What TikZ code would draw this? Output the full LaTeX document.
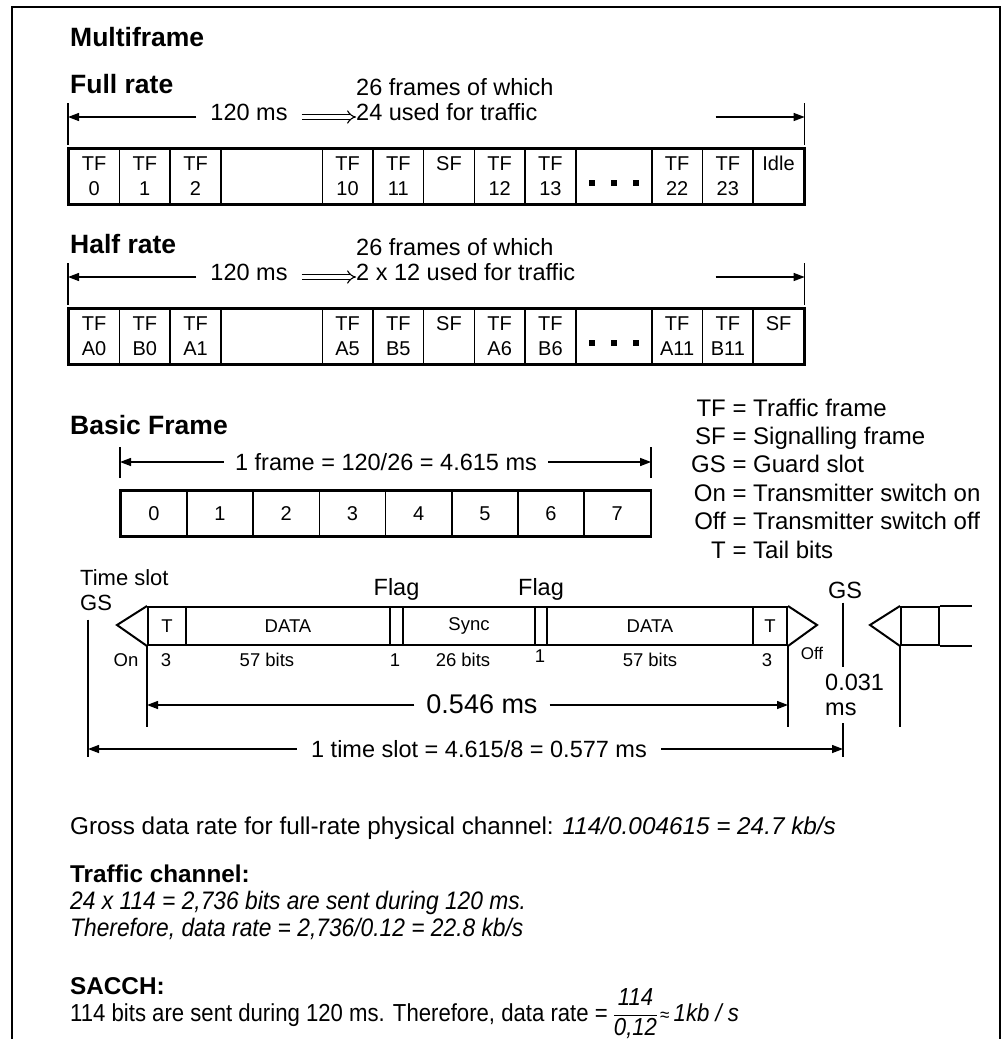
\documentclass[tikz,border=0pt]{standalone}
\usepackage{fontspec}
\setmainfont{Liberation Sans}
\newfontfamily\narrowfont{Liberation Sans}[FakeStretch=0.9]
\usetikzlibrary{arrows.meta, positioning, calc}

\newcommand\headfont{\fontsize{26.5}{30}\selectfont\bfseries}
\newcommand\labfont{\fontsize{23.5}{25}\selectfont}
\newcommand\legfont{\fontsize{24}{28.4}\selectfont}
\newcommand\bigfont{\fontsize{27}{30}\selectfont}
\newcommand\cellfont{\fontsize{20}{25}\selectfont}
\newcommand\bitfont{\fontsize{18.5}{20}\selectfont}
\newcommand\bodyfont{\fontsize{24.3}{27}\selectfont}

\begin{document}
\begin{tikzpicture}[
  x=1pt, y=-1pt,
  >={Triangle[length=11pt,width=8pt]},
  cell/.style={draw, line width=1.5pt, inner sep=0pt, anchor=north west,
               align=center, font=\cellfont, minimum height=55pt},
  bcell/.style={cell, minimum width=66.2pt, minimum height=45pt},
  rowbox/.style={draw, line width=2.6pt},
  slot/.style={draw, line width=2pt, inner sep=0pt, anchor=north west,
               minimum height=38pt, font=\bitfont},
  burst/.style={line width=2pt, line join=miter},
  frame/.style={line width=2.4pt},
  dim/.style={->, line width=1.3pt},
  tick/.style={line width=1.3pt},
  implies/.style={double, double distance=3.5pt, line width=1.1pt, -{Implies}},
  lab/.style={font=\labfont, inner sep=0pt},
  head/.style={font=\headfont, inner sep=0pt, anchor=base west},
  body/.style={font=\bodyfont, inner sep=0pt, anchor=base west},
  bit/.style={font=\bitfont, inner sep=0pt, anchor=base},
]
\useasboundingbox (0,0) rectangle (1003,1039);

% outer frame (open at the bottom)
\draw[frame] (12,1045) -- (12,7) -- (1000,7) -- (1000,1045);

% ============ MULTIFRAME ============
\node[head] (multi) at (70,46) {Multiframe};

% --- full rate ---
\node[head] (fullhd) at (70,93) {Full rate};
\foreach \x/\w/\txt [count=\i] in {0/1/{TF\\0}, 1/1/{TF\\1}, 2/1/{TF\\2},
    3/2/{}, 5/1/{TF\\10}, 6/1/{TF\\11}, 7/1/{SF\\\phantom{0}},
    8/1/{TF\\12}, 9/1/{TF\\13}, 10/1.5/{}, 11.5/1/{TF\\22},
    12.5/1/{TF\\23}, 13.5/1/{Idle\\\phantom{0}}}
  \node[cell, minimum width=\w*50.7pt] (full\i) at (68+\x*50.7,148) {\txt};
\draw[rowbox] (full1.north west) rectangle (full13.south east);
\foreach \d in {-22,0,22}
  \fill ([shift={(\d-3,4)}]full10.center) rectangle ++(6,6);

\coordinate (fullL) at ($(full1.north west)+(0,-31)$);
\coordinate (fullR) at ($(full13.north east)+(0,-31)$);
\coordinate (fullRs) at ($(fullR)+(-89,0)$);
\draw[tick] ($(full1.north west)+(0,-3)$) -- ++(0,-42);
\draw[tick] ($(full13.north east)+(0,-3)$) -- ++(0,-42);
\node[lab, anchor=base, inner xsep=14pt] (fullms) at (249,120) {120 ms};
\node[lab, align=left, anchor=north west] (fullnote) at (356,78)
  {26 frames of which\\24 used for traffic};
\draw[dim] (fullms.west |- fullL) -- (fullL);
\draw[implies] (fullms.east |- fullL) -- (fullnote.west |- fullL);
\draw[dim] (fullRs) -- (fullR);

% --- half rate ---
\node[head] (halfhd) at (70,253) {Half rate};
\foreach \x/\w/\txt [count=\i] in {0/1/{TF\\A0}, 1/1/{TF\\B0}, 2/1/{TF\\A1},
    3/2/{}, 5/1/{TF\\A5}, 6/1/{TF\\B5}, 7/1/{SF\\\phantom{0}},
    8/1/{TF\\A6}, 9/1/{TF\\B6}, 10/1.5/{}, 11.5/1/{TF\\A11},
    12.5/1/{TF\\B11}, 13.5/1/{SF\\\phantom{0}}}
  \node[cell, minimum width=\w*50.7pt] (half\i) at (68+\x*50.7,308) {\txt};
\draw[rowbox] (half1.north west) rectangle (half13.south east);
\foreach \d in {-22,0,22}
  \fill ([shift={(\d-3,4)}]half10.center) rectangle ++(6,6);

\coordinate (halfL) at ($(half1.north west)+(0,-31)$);
\coordinate (halfR) at ($(half13.north east)+(0,-31)$);
\coordinate (halfRs) at ($(halfR)+(-89,0)$);
\draw[tick] ($(half1.north west)+(0,-3)$) -- ++(0,-42);
\draw[tick] ($(half13.north east)+(0,-3)$) -- ++(0,-42);
\node[lab, anchor=base, inner xsep=14pt] (halfms) at (249,280) {120 ms};
\node[lab, align=left, anchor=north west] (halfnote) at (356,238)
  {26 frames of which\\2 x 12 used for traffic};
\draw[dim] (halfms.west |- halfL) -- (halfL);
\draw[implies] (halfms.east |- halfL) -- (halfnote.west |- halfL);
\draw[dim] (halfRs) -- (halfR);

% ============ BASIC FRAME ============
\node[head] (basichd) at (70,434) {Basic Frame};
\foreach \i in {0,...,7}
  \node[bcell] (bf\i) at (120+\i*66.2,490) {\i};
\draw[rowbox] (bf0.north west) rectangle (bf7.south east);
\coordinate (bfL) at ($(bf0.north west)+(0,-28)$);
\coordinate (bfR) at ($(bf7.north east)+(0,-28)$);
\draw[tick] ($(bf0.north west)+(0,-12)$) -- ++(0,-31);
\draw[tick] ($(bf7.north east)+(0,-12)$) -- ++(0,-31);
\node[lab, anchor=base, inner xsep=11pt] (bfms) at (386,470)
  {1 frame = 120/26 = 4.615 ms};
\draw[dim] (bfms.west |- bfL) -- (bfL);
\draw[dim] (bfms.east |- bfR) -- (bfR);

% legend
\node[font=\legfont, inner sep=0pt, anchor=north west] (legend) at (691,396)
  {\begin{tabular}{@{}r@{\ =\ }l@{}}
   TF  & Traffic frame\\
   SF  & Signalling frame\\
   GS  & Guard slot\\
   On  & Transmitter switch on\\
   Off & Transmitter switch off\\
   T   & Tail bits
   \end{tabular}};

% ============ TIME SLOT ============
\node[lab, font=\fontsize{22}{25}\selectfont, align=left, anchor=north west]
  (tslot) at (80,569) {Time slot\\GS};

\foreach \x/\w/\txt [count=\i] in {147/38/T, 185/204/DATA, 389/13/{},
    402/132/Sync, 534/12/{}, 546/206/DATA, 752/34/T}
  \node[slot, minimum width=\w pt] (b\i) at (\x,606) {\txt};
\draw[burst] (b1.north west) -- ++(-30,19) -- (b1.south west);
\draw[burst] (b7.north east) -- ++(29,19) -- (b7.south east);

% next burst
\node[slot, minimum width=38pt] (n1) at (900,606) {};
\coordinate (nR) at (972,606);
\draw[burst] (n1.north west) -- ++(-30,19) -- (n1.south west);
\draw[burst] (n1.north east) -- (nR);
\draw[burst] (n1.south east) -- (nR |- n1.south);

\node[lab, anchor=base] (flag1) at ($(b3.north)+(0,-11)$) {Flag};
\node[lab, anchor=base] (flag2) at ($(b5.north)+(0,-11)$) {Flag};

% bit counts
\node[bit] (on)   at (126,666) {On};
\node[bit] (n3a)  at (166,666) {3};
\node[bit] (n57a) at (267,666) {57 bits};
\node[bit] (n1a)  at (395,666) {1};
\node[bit] (n26)  at (463,666) {26 bits};
\node[bit] (n1b)  at (540,662) {1};
\node[bit] (n57b) at (650,666) {57 bits};
\node[bit] (n3b)  at (767,666) {3};
\node[bit, font=\fontsize{17}{20}\selectfont] (off) at (812,659) {Off};

% 0.546 ms
\draw[tick] (b1.south west) -- ++(0,81);
\draw[tick] (b7.south east) -- ++(0,81);
\draw[tick] (n1.south west) -- ++(0,81);
\coordinate (a546L) at ($(b1.south west)+(0,59)$);
\coordinate (a546R) at ($(b7.south east)+(0,59)$);
\node[font=\bigfont, inner sep=0pt, inner xsep=12pt, anchor=base] (t546)
  at (482,713) {0.546 ms};
\draw[dim] (t546.west |- a546L) -- (a546L);
\draw[dim] (t546.east |- a546R) -- (a546R);

% guard slot
\coordinate (gsL) at (88,749);
\coordinate (gsRx) at (843,749);
\node[lab] (gsR) at (845,590) {GS};
\node[lab, align=left, anchor=north west, inner ysep=7pt] (t031) at (825,667)
  {0.031\\ms};
\draw[tick] (gsR.south -| gsRx) ++(0,4) -- (t031.north -| gsRx);
\draw[tick] (t031.south -| gsRx) -- ($(gsRx)+(0,8)$);
\draw[tick] (gsL |- tslot.south) ++(0,9) -- ($(gsL)+(0,8)$);

% 1 time slot
\node[lab, anchor=base, inner xsep=14pt] (tslotms) at (479,757)
  {1 time slot = 4.615/8 = 0.577 ms};
\draw[dim] (tslotms.west |- gsL) -- (gsL);
\draw[dim] (tslotms.east |- gsRx) -- (gsRx);

% ============ DATA RATES ============
\node[body] (gross) at (70,834)
  {Gross data rate for full-rate physical channel: \textit{114/0.004615 = 24.7 kb/s}};
\node[body, font=\bodyfont\bfseries] (tchd) at (70,882) {Traffic channel:};
\node[body, font=\fontsize{25.3}{27}\selectfont\narrowfont\itshape] (tc1) at (70,909)
  {24 x 114 = 2,736 bits are sent during 120 ms.};
\node[body, font=\fontsize{25.3}{27}\selectfont\narrowfont\itshape] (tc2) at (70,936)
  {Therefore, data rate = 2,736/0.12 = 22.8 kb/s};
\node[body, font=\bodyfont\bfseries] (sachd) at (70,994) {SACCH:};
\node[body, font=\fontsize{24.6}{28}\selectfont\narrowfont] (sac) at (70,1021)
  {114 bits are sent during 120 ms. Therefore, data rate =
   \begin{tabular}{@{}c@{}}\textit{114}\\[1pt]\hline\textit{0,12}\end{tabular}%
   {\fontsize{19}{20}\selectfont\,≈}\,\textit{1kb / s}};

\end{tikzpicture}
\end{document}
